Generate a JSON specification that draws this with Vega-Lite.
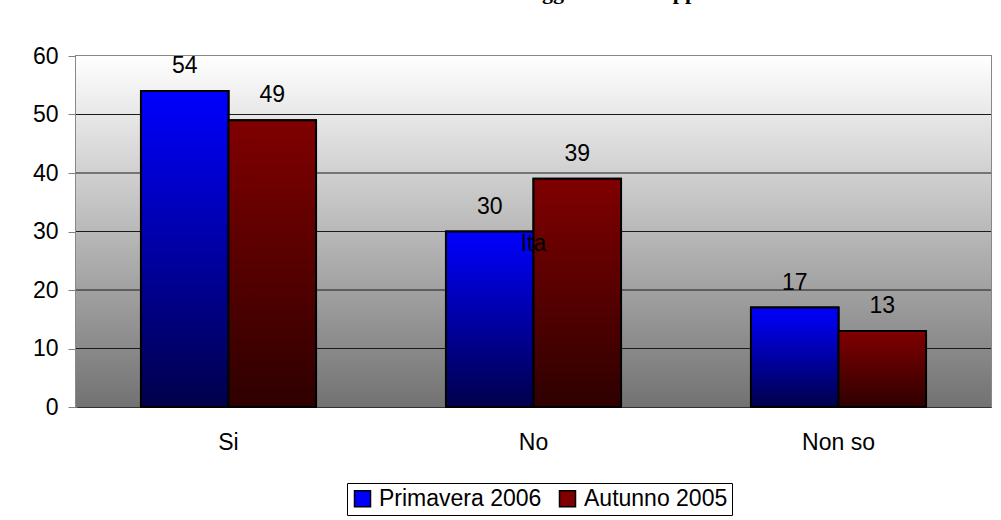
{
  "$schema": "https://vega.github.io/schema/vega-lite/v6.json",
  "width": 915,
  "height": 351,
  "autosize": {"type": "none"},
  "padding": {"left": 76, "top": 56, "right": 10, "bottom": 113},
  "background": "white",
  "config": {
    "font": "Liberation Sans",
    "view": {"stroke": "#888888", "strokeWidth": 2},
    "axis": {"labelFont": "Liberation Sans", "labelFontSize": 23, "labelColor": "black"}
  },
  "datasets": {
    "bars": [
      {"categoria": "Si", "serie": "Primavera 2006", "valore": 54},
      {"categoria": "Si", "serie": "Autunno 2005", "valore": 49},
      {"categoria": "No", "serie": "Primavera 2006", "valore": 30},
      {"categoria": "No", "serie": "Autunno 2005", "valore": 39},
      {"categoria": "Non so", "serie": "Primavera 2006", "valore": 17},
      {"categoria": "Non so", "serie": "Autunno 2005", "valore": 13}
    ],
    "grid": [{"g": 10}, {"g": 20}, {"g": 30}, {"g": 40}, {"g": 50}],
    "stray": [{"categoria": "No", "valore": 27.9, "testo": "Ita"}],
    "titolo": [{"categoria": "No", "valore": 69.7, "testo": "Conoscenza della legge sullo sviluppo"}]
  },
  "layer": [
    {
      "data": {"values": [{"top": 60, "bottom": 0}]},
      "mark": {
        "type": "rect",
        "fill": {"gradient": "linear", "x1": 0, "y1": 0, "x2": 0, "y2": 1,
          "stops": [{"offset": 0, "color": "#ffffff"}, {"offset": 1, "color": "#727272"}]}
      },
      "encoding": {
        "y": {"field": "top", "type": "quantitative", "scale": {"domain": [0, 60]}},
        "y2": {"field": "bottom"}
      }
    },
    {
      "data": {"name": "grid"},
      "mark": {"type": "rule", "color": "#1a1a1a", "strokeWidth": 1},
      "encoding": {"y": {"field": "g", "type": "quantitative"}}
    },
    {
      "data": {"name": "bars"},
      "mark": {"type": "bar", "stroke": "black", "strokeWidth": 2},
      "encoding": {
        "x": {"field": "categoria", "type": "nominal", "sort": ["Si", "No", "Non so"],
          "scale": {"paddingInner": 0.426, "paddingOuter": 0.213},
          "axis": {"title": null, "labelAngle": 0, "ticks": false, "labelPadding": 24, "domainColor": "#333333", "domainWidth": 1}},
        "xOffset": {"field": "serie", "type": "nominal", "sort": ["Primavera 2006", "Autunno 2005"], "scale": {"paddingInner": 0, "paddingOuter": 0}},
        "y": {"field": "valore", "type": "quantitative", "scale": {"domain": [0, 60]},
          "axis": {"title": null, "values": [0, 10, 20, 30, 40, 50, 60], "grid": false, "tickSize": 8, "tickColor": "#808080", "labelPadding": 10, "domainColor": "#888888", "domainWidth": 2}},
        "color": {"field": "serie", "type": "nominal", "sort": ["Primavera 2006", "Autunno 2005"],
          "scale": {"range": ["#0000ff", "#800000"]},
          "legend": {"title": null, "orient": "none", "legendX": 271, "legendY": 427, "direction": "horizontal", "symbolType": "square", "symbolSize": 256,
            "symbolStrokeColor": "black", "symbolStrokeWidth": 1.5, "symbolOpacity": 1, "labelFontSize": 23, "labelColor": "black", "labelFont": "Liberation Sans", "labelLimit": 400,
            "strokeColor": "black", "padding": 4, "columnPadding": 14, "labelOffset": 5, "fillColor": "white"}}
      }
    },
    {
      "data": {"name": "bars"},
      "transform": [{"filter": "datum.serie === 'Primavera 2006'"}],
      "mark": {"type": "bar", "stroke": "black", "strokeWidth": 2,
        "fill": {"gradient": "linear", "x1": 0, "y1": 0, "x2": 0, "y2": 1,
          "stops": [{"offset": 0, "color": "#0000ff"}, {"offset": 1, "color": "#00004a"}]}},
      "encoding": {
        "x": {"field": "categoria", "type": "nominal", "sort": ["Si", "No", "Non so"]},
        "xOffset": {"field": "serie", "type": "nominal", "sort": ["Primavera 2006", "Autunno 2005"]},
        "y": {"field": "valore", "type": "quantitative"}
      }
    },
    {
      "data": {"name": "bars"},
      "transform": [{"filter": "datum.serie === 'Autunno 2005'"}],
      "mark": {"type": "bar", "stroke": "black", "strokeWidth": 2,
        "fill": {"gradient": "linear", "x1": 0, "y1": 0, "x2": 0, "y2": 1,
          "stops": [{"offset": 0, "color": "#800000"}, {"offset": 1, "color": "#2e0000"}]}},
      "encoding": {
        "x": {"field": "categoria", "type": "nominal", "sort": ["Si", "No", "Non so"]},
        "xOffset": {"field": "serie", "type": "nominal", "sort": ["Primavera 2006", "Autunno 2005"]},
        "y": {"field": "valore", "type": "quantitative"}
      }
    },
    {
      "data": {"name": "bars"},
      "mark": {"type": "text", "fontSize": 23, "color": "black", "baseline": "bottom", "dy": -13, "font": "Liberation Sans"},
      "encoding": {
        "x": {"field": "categoria", "type": "nominal", "sort": ["Si", "No", "Non so"]},
        "xOffset": {"field": "serie", "type": "nominal", "sort": ["Primavera 2006", "Autunno 2005"]},
        "y": {"field": "valore", "type": "quantitative"},
        "text": {"field": "valore", "type": "quantitative"}
      }
    },
    {
      "data": {"name": "stray"},
      "mark": {"type": "text", "fontSize": 23, "color": "black", "baseline": "middle", "font": "Liberation Sans"},
      "encoding": {
        "x": {"field": "categoria", "type": "nominal", "sort": ["Si", "No", "Non so"]},
        "y": {"field": "valore", "type": "quantitative"},
        "text": {"field": "testo"}
      }
    },
    {
      "data": {"name": "titolo"},
      "mark": {"type": "text", "fontSize": 22, "fontWeight": "bold", "font": "Liberation Serif", "color": "black", "baseline": "alphabetic", "align": "center", "clip": false},
      "encoding": {
        "x": {"field": "categoria", "type": "nominal", "sort": ["Si", "No", "Non so"]},
        "y": {"field": "valore", "type": "quantitative"},
        "text": {"field": "testo"}
      }
    }
  ]
}
